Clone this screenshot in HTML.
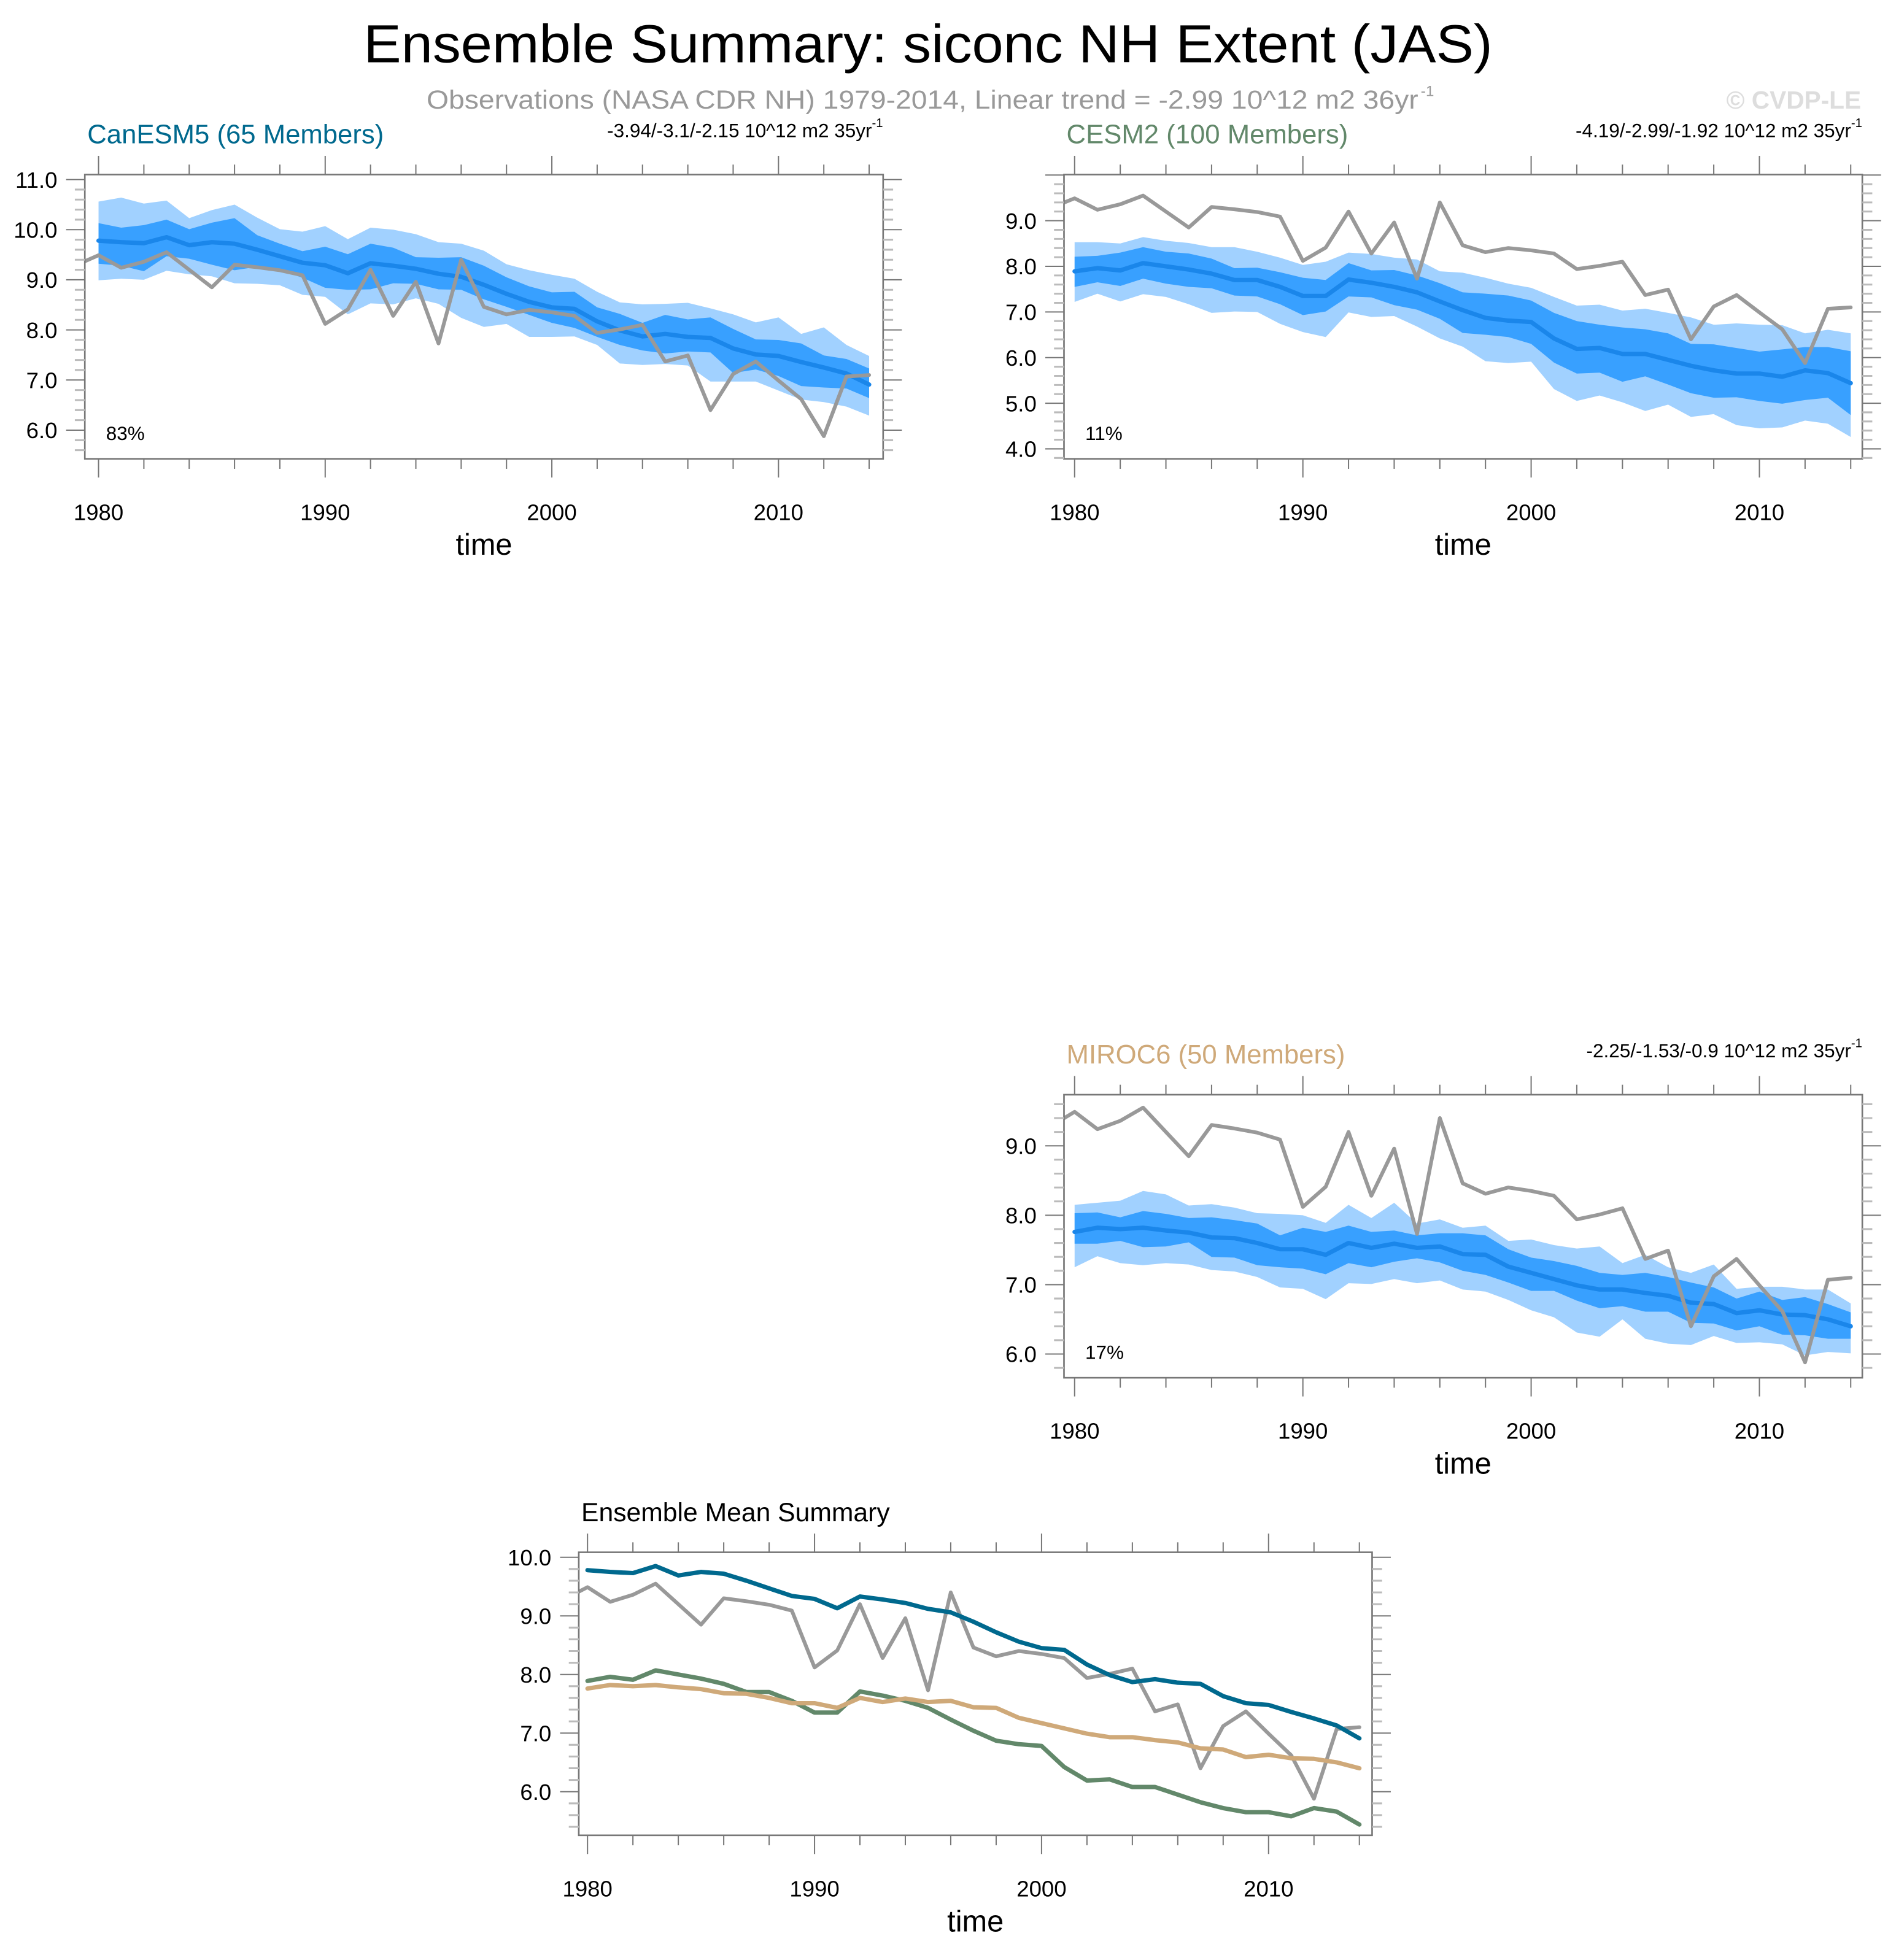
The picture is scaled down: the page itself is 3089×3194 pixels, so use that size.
<!DOCTYPE html>
<html><head><meta charset="utf-8"><style>
html,body{margin:0;padding:0;background:#fff;}
svg{display:block;font-family:"Liberation Sans",Arial,sans-serif;}
</style></head><body>
<svg id="fig" width="3089" height="3194" viewBox="0 0 1520 1572" preserveAspectRatio="none" xmlns="http://www.w3.org/2000/svg">
<text x="744" y="50" font-size="43" text-anchor="middle" textLength="905" lengthAdjust="spacingAndGlyphs">Ensemble Summary: siconc NH Extent (JAS)</text>
<text x="342" y="87" font-size="21" fill="#999" textLength="795" lengthAdjust="spacingAndGlyphs">Observations (NASA CDR NH) 1979-2014, Linear trend = -2.99 10^12 m2 36yr</text>
<text x="1139" y="77" font-size="12" fill="#999">-1</text>
<text x="1492" y="87" font-size="20" font-weight="bold" fill="#ddd" text-anchor="end">© CVDP-LE</text>
<g id="plots"></g>
</svg>
<script>
// ---- data ----
const years = [1980,1981,1982,1983,1984,1985,1986,1987,1988,1989,1990,1991,1992,1993,1994,1995,1996,1997,1998,1999,2000,2001,2002,2003,2004,2005,2006,2007,2008,2009,2010,2011,2012,2013,2014];
const obsYears = [1979].concat(years);
const obsValues = [9.29,9.49,9.24,9.36,9.55,9.20,8.85,9.30,9.25,9.19,9.09,8.12,8.41,9.20,8.28,8.96,7.73,9.40,8.46,8.31,8.40,8.35,8.28,7.94,8.01,8.10,7.37,7.49,6.40,7.12,7.37,6.99,6.62,5.88,7.07,7.10];

const canMean = [9.78,9.75,9.73,9.85,9.69,9.75,9.72,9.60,9.47,9.34,9.29,9.13,9.33,9.28,9.22,9.12,9.06,8.90,8.72,8.56,8.45,8.42,8.17,7.99,7.87,7.92,7.86,7.84,7.63,7.51,7.48,7.36,7.25,7.13,6.91];
const canDarkHi = [10.13,10.04,10.09,10.20,10.01,10.14,10.23,9.89,9.72,9.57,9.66,9.51,9.72,9.64,9.45,9.44,9.45,9.28,9.05,8.87,8.75,8.76,8.45,8.32,8.14,8.30,8.21,8.25,8.02,7.81,7.80,7.73,7.49,7.42,7.23];
const canDarkLo = [9.32,9.28,9.17,9.47,9.42,9.30,9.19,9.26,9.19,9.04,8.84,8.80,8.81,8.93,8.92,8.81,8.80,8.61,8.46,8.30,8.14,8.04,7.86,7.70,7.59,7.53,7.57,7.55,7.14,7.21,7.08,6.88,6.85,6.83,6.64];
const canLightHi = [10.56,10.64,10.52,10.58,10.23,10.39,10.50,10.24,10.01,9.96,10.07,9.81,10.04,10.00,9.91,9.75,9.72,9.58,9.31,9.19,9.10,9.02,8.76,8.55,8.51,8.52,8.54,8.43,8.31,8.15,8.25,7.92,8.05,7.70,7.48];
const canLightLo = [8.99,9.02,9.00,9.18,9.11,9.07,8.93,8.92,8.89,8.70,8.66,8.31,8.53,8.51,8.63,8.52,8.24,8.06,8.12,7.86,7.86,7.87,7.70,7.33,7.30,7.32,7.29,6.97,6.97,6.97,6.79,6.61,6.56,6.47,6.29];

const cesmMean = [7.89,7.96,7.91,8.07,8.00,7.93,7.84,7.70,7.70,7.55,7.35,7.35,7.71,7.64,7.55,7.43,7.23,7.04,6.87,6.81,6.78,6.42,6.19,6.21,6.08,6.08,5.95,5.82,5.72,5.65,5.65,5.58,5.72,5.66,5.44];
const cesmDarkHi = [8.21,8.23,8.30,8.42,8.32,8.28,8.17,7.96,7.97,7.87,7.75,7.70,8.07,7.91,7.92,7.80,7.63,7.43,7.40,7.36,7.25,6.98,6.80,6.72,6.66,6.62,6.53,6.30,6.29,6.21,6.13,6.18,6.23,6.23,6.14];
const cesmDarkLo = [7.55,7.65,7.57,7.73,7.62,7.55,7.52,7.36,7.34,7.17,6.93,7.01,7.34,7.32,7.15,7.05,6.85,6.54,6.50,6.45,6.30,5.89,5.65,5.67,5.47,5.59,5.41,5.22,5.12,5.13,5.05,4.99,5.07,5.12,4.74];
const cesmLightHi = [8.53,8.53,8.50,8.64,8.56,8.51,8.42,8.42,8.32,8.19,8.03,8.10,8.30,8.27,8.19,8.15,7.89,7.86,7.75,7.62,7.53,7.33,7.14,7.16,7.03,7.07,6.98,6.88,6.72,6.75,6.72,6.71,6.53,6.61,6.53];
const cesmLightLo = [7.22,7.40,7.23,7.39,7.33,7.17,6.98,7.01,7.00,6.74,6.56,6.45,6.99,6.89,6.91,6.68,6.42,6.24,5.92,5.88,5.91,5.31,5.05,5.17,5.02,4.83,4.97,4.70,4.76,4.52,4.45,4.47,4.62,4.55,4.26];

const miroMean = [7.76,7.82,7.80,7.82,7.78,7.75,7.68,7.67,7.60,7.51,7.51,7.43,7.60,7.53,7.59,7.53,7.55,7.44,7.43,7.26,7.17,7.08,6.99,6.93,6.93,6.88,6.84,6.74,6.72,6.59,6.63,6.57,6.56,6.50,6.40];
const miroDarkHi = [8.03,8.04,7.97,8.06,8.02,7.96,7.97,7.93,7.88,7.71,7.82,7.76,7.85,7.76,7.78,7.71,7.74,7.74,7.71,7.51,7.39,7.34,7.27,7.17,7.14,7.17,7.11,7.03,6.96,6.80,6.90,6.78,6.82,6.72,6.60];
const miroDarkLo = [7.59,7.59,7.63,7.54,7.55,7.61,7.40,7.39,7.28,7.25,7.23,7.15,7.31,7.25,7.33,7.38,7.32,7.20,7.14,7.03,6.91,6.91,6.77,6.66,6.69,6.61,6.61,6.45,6.44,6.34,6.40,6.28,6.27,6.22,6.22];
const miroLightHi = [8.15,8.18,8.21,8.35,8.30,8.14,8.16,8.11,8.03,8.02,8.00,7.89,8.15,7.96,8.18,7.88,7.94,7.82,7.85,7.63,7.65,7.57,7.52,7.55,7.31,7.43,7.25,7.17,7.29,6.94,6.97,6.97,6.93,6.93,6.73];
const miroLightLo = [7.25,7.41,7.31,7.28,7.31,7.29,7.21,7.19,7.11,6.96,6.94,6.79,7.02,7.01,7.08,7.02,7.06,6.93,6.90,6.78,6.63,6.53,6.31,6.25,6.50,6.22,6.15,6.13,6.26,6.16,6.17,6.14,5.98,6.03,6.01];

const xTickLabels = ["1980","1990","2000","2010"];
const p1YTicks = ["6.0","7.0","8.0","9.0","10.0","11.0"];
const p2YTicks = ["4.0","5.0","6.0","7.0","8.0","9.0"];
const p3YTicks = ["6.0","7.0","8.0","9.0"];
const p4YTicks = ["6.0","7.0","8.0","9.0","10.0"];

// ---- drawing ----
const NS = "http://www.w3.org/2000/svg";
const root = document.getElementById("plots");
function mk(tag, attrs, parent){
  const e = document.createElementNS(NS, tag);
  for (const k in attrs) e.setAttribute(k, attrs[k]);
  (parent||root).appendChild(e);
  return e;
}
let clipN = 0;
function panel(cfg){
  const g = mk("g", {});
  
  
  const L=cfg.L,R=cfg.R,T=cfg.T,B=cfg.B;
  const xs = yr => cfg.x0 + (yr-1980)*cfg.xs;
  const ys = v => cfg.yA + (v-cfg.vA)*(cfg.yB-cfg.yA)/(cfg.vB-cfg.vA);
  const id = "clip"+(clipN++);
  const cp = mk("clipPath",{id:id},g);
  mk("rect",{x:L,y:T,width:R-L,height:B-T},cp);
  const pg = mk("g",{"clip-path":"url(#"+id+")"},g);
  function band(hi, lo, color, nm){
    let d = "M";
    years.forEach((y,i)=>{ d += xs(y).toFixed(2)+","+ys(hi[i]).toFixed(2)+" L"; });
    for (let i=years.length-1;i>=0;i--){ d += xs(years[i]).toFixed(2)+","+ys(lo[i]).toFixed(2)+(i>0?" L":""); }
    const p = mk("path",{d:d+"Z",fill:color,stroke:"none"},pg);
    
    
  }
  function line(xv, yv, color, w, nm){
    const pts = xv.map((y,i)=>xs(y).toFixed(2)+","+ys(yv[i]).toFixed(2)).join(" ");
    const p = mk("polyline",{points:pts,fill:"none",stroke:color,"stroke-width":w,"stroke-linejoin":"round","stroke-linecap":"round"},pg);
    
    
  }
  if (cfg.bands){
    const b = cfg.bands;
    band(b.lh, b.ll, "#a1d1ff", "light-spread-band");
    band(b.dh, b.dl, "#38a0ff", "dark-spread-band");
    line(years, b.m, "#1a86ea", 3.5, "ensemble-mean-line");
    line(obsYears, obsValues, "#999", 3, "observations-line");
  } else {
    line(obsYears, obsValues, "#999", 3, "observations-line");
    line(years, cesmMean, "#62886a", 3.5, "cesm2-mean-line");
    line(years, miroMean, "#cfa979", 3.5, "miroc6-mean-line");
    line(years, canMean, "#00698e", 3.5, "canesm5-mean-line");
  }
  const fr = mk("rect",{x:L,y:T,width:R-L,height:B-T,fill:"none",stroke:"#777","stroke-width":1.3},g);
  
  
  for (let y=1980;y<=2014;y+=2){
    const x = xs(y), maj = (y%10===0);
    const len = maj?15:8;
    mk("line",{x1:x,x2:x,y1:T,y2:T-len,stroke:"#777","stroke-width":1},g);
    mk("line",{x1:x,x2:x,y1:B,y2:B+len,stroke:"#777","stroke-width":1},g);
  }
  xTickLabels.forEach(s=>{
    const t = mk("text",{x:xs(+s),y:B+49,"font-size":18,"text-anchor":"middle"},g);
    t.textContent = s;
    
    
  });
  const vmin = cfg.vA + (B-cfg.yA)*(cfg.vB-cfg.vA)/(cfg.yB-cfg.yA);
  const vmax = cfg.vA + (T-cfg.yA)*(cfg.vB-cfg.vA)/(cfg.yB-cfg.yA);
  for (let k=Math.ceil(Math.min(vmin,vmax)*5); k<=Math.floor(Math.max(vmin,vmax)*5); k++){
    const v = k/5, y = ys(v), maj = (k%5===0);
    const len = maj?15:8;
    mk("line",{x1:L,x2:L-len,y1:y,y2:y,stroke:maj?"#777":"#bbb","stroke-width":maj?1:1.5},g);
    mk("line",{x1:R,x2:R+len,y1:y,y2:y,stroke:maj?"#777":"#bbb","stroke-width":maj?1:1.5},g);
  }
  cfg.yt.forEach(s=>{
    const t = mk("text",{x:L-22,y:ys(+s)+6.5,"font-size":18,"text-anchor":"end"},g);
    t.textContent = s;
    
    
  });
  const xt = mk("text",{x:(L+R)/2,y:B+77,"font-size":24,"text-anchor":"middle"},g);
  xt.textContent = "time";
  
  
  const tt = mk("text",{x:L+2,y:T-25,"font-size":cfg.tsize||21.5,fill:cfg.tcolor},g);
  tt.textContent = cfg.title;
  
  
  if (cfg.trend){
    const tr = mk("text",{x:R-9,y:T-30,"font-size":15.5,"text-anchor":"end"},g);
    tr.textContent = cfg.trend;
    
    
    const sup = mk("text",{x:R-9,y:T-38,"font-size":10},g);
    sup.textContent = "-1";
    
    
  }
  if (cfg.pct){
    const pc = mk("text",{x:L+17,y:B-15,"font-size":15.5},g);
    pc.textContent = cfg.pct;
    
    
  }
}

panel({name:"canesm5-panel",L:68,R:708,T:140,B:368,x0:79,xs:18.17,vA:11,yA:144,vB:6,yB:345,yt:p1YTicks,
  title:"CanESM5 (65 Members)",tcolor:"#00698e",trend:"-3.94/-3.1/-2.15 10^12 m2 35yr",pct:"83%",
  bands:{m:canMean,dh:canDarkHi,dl:canDarkLo,lh:canLightHi,ll:canLightLo}});
panel({name:"cesm2-panel",L:853,R:1493,T:140,B:368,x0:861.5,xs:18.3,vA:9,yA:177,vB:4,yB:360,yt:p2YTicks,
  title:"CESM2 (100 Members)",tcolor:"#62886a",trend:"-4.19/-2.99/-1.92 10^12 m2 35yr",pct:"11%",
  bands:{m:cesmMean,dh:cesmDarkHi,dl:cesmDarkLo,lh:cesmLightHi,ll:cesmLightLo}});
panel({name:"miroc6-panel",L:853,R:1493,T:878,B:1105,x0:861.5,xs:18.3,vA:9,yA:919,vB:6,yB:1086,yt:p3YTicks,
  title:"MIROC6 (50 Members)",tcolor:"#cfa979",trend:"-2.25/-1.53/-0.9 10^12 m2 35yr",pct:"17%",
  bands:{m:miroMean,dh:miroDarkHi,dl:miroDarkLo,lh:miroLightHi,ll:miroLightLo}});
panel({name:"ensemble-mean-summary-panel",L:464,R:1100,T:1245,B:1472,x0:471,xs:18.2,vA:10,yA:1249,vB:6,yB:1437,yt:p4YTicks,
  title:"Ensemble Mean Summary",tcolor:"#000",tsize:21});
</script>
</body></html>
